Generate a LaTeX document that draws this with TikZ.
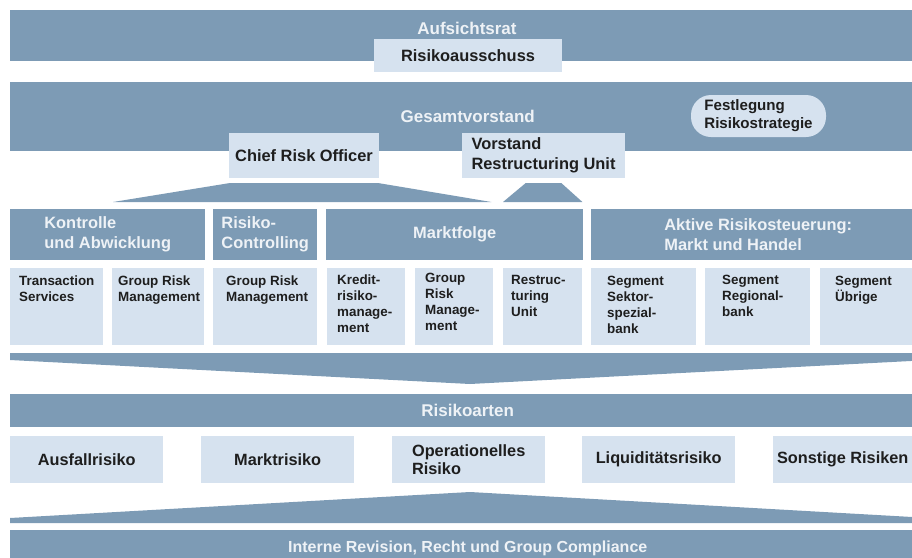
\documentclass[tikz,border=0pt]{standalone}
\usepackage{fontspec}
\setmainfont{Liberation Sans}
\usetikzlibrary{calc}

\definecolor{barblue}{HTML}{7D9BB5}
\definecolor{cellblue}{HTML}{D6E2EF}
\definecolor{bartxt}{HTML}{EEF2F6}
\definecolor{celltxt}{HTML}{1E1E1E}

\begin{document}
\begin{tikzpicture}[x=1pt,y=-1pt,
  bar/.style={fill=barblue,inner sep=0pt,anchor=north west,minimum width=915pt,text=bartxt,font=\bfseries\fontsize{17}{20}\selectfont},
  bartitle/.style={inner sep=0pt,text=bartxt,font=\bfseries\fontsize{17}{20}\selectfont},
  head/.style={fill=barblue,inner sep=0pt,anchor=north west,minimum height=51pt,align=left,text=bartxt,font=\bfseries\fontsize{16.4}{20}\selectfont},
  cell/.style={fill=cellblue,inner sep=0pt,anchor=north west,minimum height=77pt},
  celltext/.style={anchor=north west,align=left,inner sep=0pt,text=celltxt,font=\bfseries\fontsize{13.4}{16}\selectfont},
  risk/.style={fill=cellblue,inner sep=0pt,anchor=north west,minimum width=153pt,minimum height=47pt,align=left,text=celltxt,font=\bfseries\fontsize{16.3}{18}\selectfont},
  topbox/.style={fill=cellblue,inner sep=0pt,align=left,text=celltxt,font=\bfseries\fontsize{16.4}{20}\selectfont}]
  \useasboundingbox (0,0) rectangle (912,557);
  \clip (0,0) rectangle (912,557);

  % board levels
  \node[bar,minimum height=51pt] (aufsichtsrat) at (10,10) {};
  \node[bartitle] (aufsichtsrat-t) at (467,28) {Aufsichtsrat};
  \node[topbox,minimum width=188pt,minimum height=33pt] (ausschuss) at (468,55.5) {Risikoausschuss};
  \node[bar,minimum height=69pt] (vorstand) at (10,82) {Gesamtvorstand};
  \node[topbox,rounded corners=20pt,minimum width=135pt,minimum height=42pt,font=\bfseries\fontsize{15.1}{18}\selectfont] (strategie) at (758.5,116) {Festlegung\\Risikostrategie};
  \node[topbox,minimum width=150pt,minimum height=45pt] (cro) at (304,155.5) {Chief Risk Officer};
  \node[topbox,minimum width=163pt,minimum height=45pt] (vru) at (543.5,155.5) {Vorstand\\Restructuring Unit};

  % column headers
  \node[head,minimum width=195pt] (kontrolle) at (10,209) {Kontrolle\\und Abwicklung};
  \node[head,minimum width=104pt] (riskctrl) at (213,209) {Risiko-\\Controlling};
  \node[head,minimum width=257pt] (marktfolge) at (326,209) {Marktfolge};
  \node[head,minimum width=334pt] (aktive) at (591,209) {Aktive Risikosteuerung:\\Markt und Handel};

  % units
  \node[cell,minimum width=93pt] (ts) at (10,268) {};
  \node[cell,minimum width=92pt] (grmk) at (112,268) {};
  \node[cell,minimum width=104pt] (grmrc) at (213,268) {};
  \node[cell,minimum width=78pt] (kredit) at (327,268) {};
  \node[cell,minimum width=78pt] (grmm) at (415,268) {};
  \node[cell,minimum width=79pt] (rsu) at (503,268) {};
  \node[cell,minimum width=105pt] (sektor) at (591,268) {};
  \node[cell,minimum width=105pt] (regional) at (705,268) {};
  \node[cell,minimum width=105pt] (uebrige) at (820,268) {};
  \node[celltext] (ts-t) at ([xshift=9pt,yshift=-8pt]ts.north west) {Transaction\\Services};
  \node[celltext] (grmk-t) at ([xshift=6pt,yshift=-8pt]grmk.north west) {Group Risk\\Management};
  \node[celltext] (grmrc-t) at ([xshift=13pt,yshift=-8pt]grmrc.north west) {Group Risk\\Management};
  \node[celltext] (kredit-t) at ([xshift=10pt,yshift=-7pt]kredit.north west) {Kredit-\\risiko-\\manage-\\ment};
  \node[celltext] (grmm-t) at ([xshift=10pt,yshift=-5pt]grmm.north west) {Group\\Risk\\Manage-\\ment};
  \node[celltext] (rsu-t) at ([xshift=8pt,yshift=-7pt]rsu.north west) {Restruc-\\turing\\Unit};
  \node[celltext] (sektor-t) at ([xshift=16pt,yshift=-8pt]sektor.north west) {Segment\\Sektor-\\spezial-\\bank};
  \node[celltext] (regional-t) at ([xshift=17pt,yshift=-7pt]regional.north west) {Segment\\Regional-\\bank};
  \node[celltext] (uebrige-t) at ([xshift=15pt,yshift=-8pt]uebrige.north west) {Segment\\Übrige};

  % funnels from the board to the units
  \fill[barblue] ([yshift=-5pt]cro.south west) -- ([yshift=-5pt]cro.south east)
    -- ($(grmm.north east |- marktfolge.north)+(-2,-7)$) -- ($(grmk.north west |- kontrolle.north)+(1,-7)$) -- cycle;
  \fill[barblue] ($(vru.south)+(-18,5)$) -- ($(vru.south)+(18,5)$)
    -- ($(rsu.north east |- marktfolge.north)+(0,-7)$) -- ($(rsu.north west |- marktfolge.north)+(0,-7)$) -- cycle;

  % chevron down to the risk types
  \fill[barblue] (10,353) -- (930,353) -- (930,360) -- (470,384) -- (10,360) -- cycle;

  % risk types
  \node[bar,minimum height=33pt] (risikoarten) at (10,394) {Risikoarten};
  \node[risk] (ausfall) at (10,436) {Ausfallrisiko};
  \node[risk] (markt) at (201,436) {Marktrisiko};
  \node[risk] (oprisk) at (392,436) {Operationelles\\Risiko};
  \node[risk] (liqui) at (582,436) {Liquiditätsrisiko};
  \node[risk,minimum width=139pt] (sonstige) at (773,436) {Sonstige Risiken};

  % chevron up from the audit level
  \fill[barblue] (10,518) -- (470,492) -- (930,518) -- (930,523) -- (10,523) -- cycle;
  \node[bar,minimum height=36pt,font=\bfseries\fontsize{16}{19}\selectfont] (revision) at (10,530) {Interne Revision, Recht und Group Compliance};
\end{tikzpicture}
\end{document}
